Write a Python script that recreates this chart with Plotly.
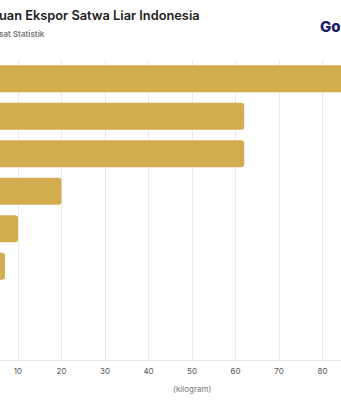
import plotly.graph_objects as go

# Data (top-to-bottom order)
negara = ["Jepang", "Amerika Serikat", "Tiongkok", "Singapura",
          "Malaysia", "Hong Kong", "Taiwan", "Korea Selatan"]
berat_kg = [90, 62, 62, 20, 10, 7, 3, 1]
x_ticks = [10, 20, 30, 40, 50, 60, 70, 80]

# Visible (cropped) text fragments as they appear in the reference
judul = "uan Ekspor Satwa Liar Indonesia"
sumber = "sat Statistik"
logo = "Go"
satuan = "(kilogram)"

W, H = 341, 400
top, bottom = 59.75, 40
plot_h = H - top - bottom

def py(p):
    return (H - bottom - p) / plot_h

fig = go.Figure(go.Bar(
    x=berat_kg, y=negara, orientation="h",
    marker=dict(color="#D3AC4F", cornerradius=3, line=dict(width=0)),
    hoverinfo="x+y",
))

fig.update_layout(
    width=W, height=H,
    margin=dict(l=0, r=0, t=top, b=bottom, pad=0),
    paper_bgcolor="white", plot_bgcolor="white",
    bargap=0.28, showlegend=False,
    font=dict(family="Inter, sans-serif"),
    xaxis=dict(
        range=[25.5 / 4.35, (W + 25.5) / 4.35],
        tickvals=x_ticks, showgrid=True, gridcolor="#EAEAEA", gridwidth=1,
        zeroline=False, showline=True, linecolor="#E6E6E6", linewidth=1,
        ticks="outside", ticklen=3, tickcolor="rgba(0,0,0,0)",
        tickfont=dict(size=8, color="#555555"),
    ),
    yaxis=dict(
        categoryorder="array", categoryarray=negara[::-1],
        showticklabels=False, showgrid=False, zeroline=False, showline=False,
    ),
)

fig.add_annotation(text=judul,
                   xref="paper", yref="paper", x=0, y=py(15), xshift=-3,
                   xanchor="left", yanchor="middle", showarrow=False,
                   font=dict(size=12.8, color="#222222", weight=600))
fig.add_annotation(text=sumber,
                   xref="paper", yref="paper", x=0, y=py(34), xshift=-3,
                   xanchor="left", yanchor="middle", showarrow=False,
                   font=dict(size=8, color="#777777", weight=600))
fig.add_annotation(text=logo,
                   xref="paper", yref="paper", x=1, y=py(26), xshift=2,
                   xanchor="right", yanchor="middle", showarrow=False,
                   font=dict(size=15, color="#1B1A6B", weight=800))
fig.add_annotation(text=satuan,
                   xref="x", yref="paper", x=50, y=py(389),
                   xanchor="center", yanchor="middle", showarrow=False,
                   font=dict(size=8, color="#777777"))

fig.write_html("out.html")
